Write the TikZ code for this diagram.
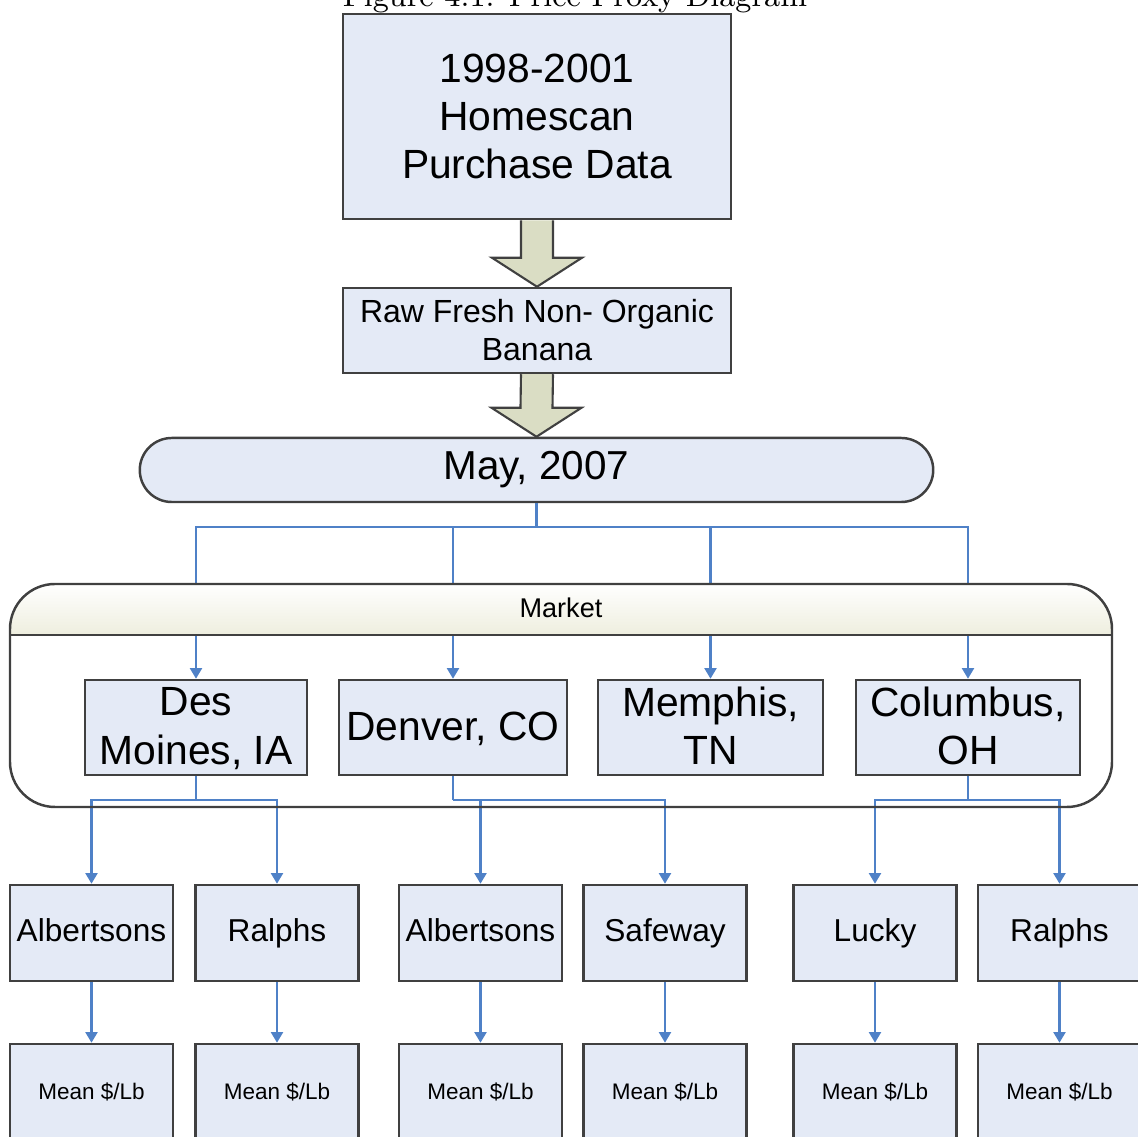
\documentclass[tikz,border=0pt]{standalone}
\usepackage{fontspec}
\newfontfamily\arialfont{Liberation Sans}
\usetikzlibrary{arrows.meta,positioning,calc}
\definecolor{boxfill}{RGB}{228,234,246}
\definecolor{boxline}{RGB}{64,64,64}
\definecolor{linkblue}{RGB}{79,129,199}
\definecolor{arrowfill}{RGB}{218,221,196}
\definecolor{headfill}{RGB}{238,238,222}

\begin{document}
\begin{tikzpicture}[x=0.01cm, y=-0.01cm, >={Triangle[length=3pt,width=3.4pt]},
  box/.style={draw=boxline, fill=boxfill, line width=0.7pt, align=center, inner sep=0pt},
  bigbox/.style={box, minimum width=3.88cm, font=\arialfont\fontsize{11.6}{13.7}\selectfont},
  citybox/.style={box, minimum height=0.95cm, text depth=0.9pt, font=\arialfont\fontsize{11.6}{13.7}\selectfont},
  storebox/.style={box, minimum width=1.63cm, minimum height=0.96cm, text height=6.6pt, text depth=1.9pt,
                   font=\arialfont\fontsize{9}{11}\selectfont},
  meanbox/.style={box, minimum width=1.63cm, minimum height=0.96cm, font=\arialfont\fontsize{6.4}{8}\selectfont},
  link/.style={draw=linkblue, line width=0.6pt},
  fatarrow/.style={draw=boxline, fill=arrowfill, line width=0.6pt}]

  \clip (0,0) rectangle (1138,1137);

  % Caption and top of the chain
  \node[font=\fontsize{8.9}{10}\selectfont, anchor=base] (caption) at (575,7) {Figure 4.1: Price Proxy Diagram};
  \node[bigbox, minimum height=2.05cm] (top) at (537,116.5) {1998-2001\\Homescan\\Purchase Data};
  \node[bigbox, minimum height=0.85cm, font=\arialfont\fontsize{9.1}{10.8}\selectfont] (raw) at (537,330.5) {Raw Fresh Non- Organic\\Banana};
  \node[box, minimum width=7.93cm, minimum height=0.64cm, rounded corners=0.32cm,
        font=\arialfont\fontsize{11.5}{13}\selectfont] (may) at (536.5,470) {May, 2007};

  % Markets
  \node[citybox, minimum width=2.22cm] (dm) at (196,727.5) {Des\\Moines, IA};
  \node[citybox, minimum width=2.28cm] (den) at (453,727.5) {Denver, CO};
  \node[citybox, minimum width=2.25cm] (mem) at (710.5,727.5) {Memphis,\\TN};
  \node[citybox, minimum width=2.24cm] (col) at (968,727.5) {Columbus,\\OH};

  % Stores
  \node[storebox] (alb1) at (91.5,933) {Albertsons};
  \node[storebox] (ral1) at (277,933) {Ralphs};
  \node[storebox] (alb2) at (480.5,933) {Albertsons};
  \node[storebox] (saf) at (665,933) {Safeway};
  \node[storebox] (luc) at (875,933) {Lucky};
  \node[storebox] (ral2) at (1059.5,933) {Ralphs};

  % Prices
  \node[meanbox] (m1) at (91.5,1092) {Mean \$/Lb};
  \node[meanbox] (m2) at (277,1092) {Mean \$/Lb};
  \node[meanbox] (m3) at (480.5,1092) {Mean \$/Lb};
  \node[meanbox] (m4) at (665,1092) {Mean \$/Lb};
  \node[meanbox] (m5) at (875,1092) {Mean \$/Lb};
  \node[meanbox] (m6) at (1059.5,1092) {Mean \$/Lb};

  % Block arrows
  \draw[fatarrow] ($(top.south)+(-16,0)$) -- ($(raw.north)+(-16,-29)$) -- ($(raw.north)+(-45,-29)$)
    -- (raw.north) -- ($(raw.north)+(45,-29)$) -- ($(raw.north)+(16,-29)$) -- ($(top.south)+(16,0)$);
  \draw[fatarrow] ($(raw.south)+(-16,0)$) -- ($(may.north)+(-16,-29)$) -- ($(may.north)+(-45,-29)$)
    -- (may.north) -- ($(may.north)+(45,-29)$) -- ($(may.north)+(16,-29)$) -- ($(raw.south)+(16,0)$);

  % Connectors
  \coordinate (mayj) at ($(may.south)+(0,24)$);
  \draw[link] (may.south) -- (mayj);
  \foreach \c in {dm,den,mem,col}
    \draw[link,->] (mayj) -| (\c.north);

  \coordinate (dmj) at ($(dm.south)+(0,24)$);
  \coordinate (denj) at ($(den.south)+(0,24)$);
  \coordinate (colj) at ($(col.south)+(0,24)$);
  \draw[link] (dm.south) -- (dmj);
  \draw[link] (den.south) -- (denj);
  \draw[link] (col.south) -- (colj);
  \draw[link,->] (dmj) -| (alb1.north);
  \draw[link,->] (dmj) -| (ral1.north);
  \draw[link,->] (denj) -| (alb2.north);
  \draw[link,->] (denj) -| (saf.north);
  \draw[link,->] (colj) -| (luc.north);
  \draw[link,->] (colj) -| (ral2.north);

  \foreach \s/\m in {alb1/m1,ral1/m2,alb2/m3,saf/m4,luc/m5,ral2/m6}
    \draw[link,->] (\s) -- (\m);

  % Market panel
  \begin{scope}
    \clip[rounded corners=0.45cm] (10,584) rectangle (1112,807);
    \shade[top color=white, bottom color=headfill] (10,584) rectangle (1112,635);
  \end{scope}
  \draw[boxline, line width=0.7pt, rounded corners=0.45cm] (10,584) rectangle (1112,807);
  \draw[boxline, line width=0.7pt] (10,635) -- (1112,635);
  \node[font=\arialfont\fontsize{7.7}{9}\selectfont] (market) at (561,608) {Market};
\end{tikzpicture}
\end{document}
